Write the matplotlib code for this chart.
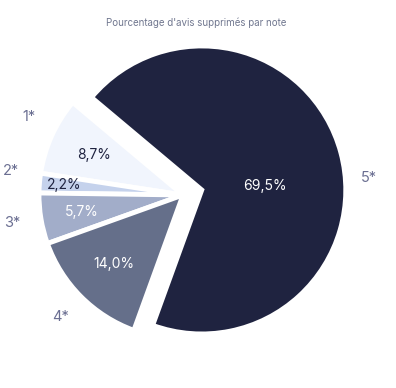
import numpy as np
import matplotlib.pyplot as plt

notes = ['1*', '2*', '3*', '4*', '5*']
pourcentages = [8.7, 2.2, 5.7, 14.0, 69.5]
couleurs = ['#f1f5fd', '#c5d2ec', '#a2adc9', '#656f8a', '#1f2340']
couleurs_pct = ['#1f2340', '#1f2340', 'white', 'white', 'white']
titre = "Pourcentage d'avis supprimés par note"

plt.rcParams['font.family'] = ['Inter', 'DejaVu Sans']


def fmt(p):
    return f"{p:.1f}%".replace('.', ',')


def main():
    fig = plt.figure(figsize=(3.96, 3.88), dpi=100)
    ax = fig.add_axes([0, 0, 1, 1])

    # pixel scale: radius ~144 px, center ~ (183, 195) from top-left
    r_px = 144.0
    cx, cy = 183.0, 388 - 195.0

    wedges, texts, autotexts = ax.pie(
        pourcentages, labels=notes, colors=couleurs, startangle=140,
        counterclock=True, explode=[0, 0, 0, 0, 0.135],
        autopct='%1.1f', pctdistance=0.68, labeldistance=1.2,
        wedgeprops=dict(edgecolor='white', linewidth=3.5),
        textprops=dict(fontsize=10))

    # show the values as given (they sum to 100.1)
    for t, v, c in zip(autotexts, pourcentages, couleurs_pct):
        t.set_text(fmt(v))
        t.set_color(c)
        t.set_fontsize(10)
    for t in texts:
        t.set_color('#6b6f92')
        t.set_fontsize(10.5)
        t.set_ha('center')
        t.set_va('center')

    # small tweaks of text placement
    def place(t, w, dist, ang=None):
        if ang is None:
            ang = (w.theta1 + w.theta2) / 2
        a = np.deg2rad(ang)
        x0, y0 = w.center
        t.set_position((x0 + dist * np.cos(a), y0 + dist * np.sin(a)))
        t.set_ha('center')
        t.set_va('center')

    place(autotexts[1], wedges[1], 0.83)
    place(autotexts[2], wedges[2], 0.71)
    place(autotexts[4], wedges[4], 0.44, 4)
    place(texts[4], wedges[4], 1.16, 4)
    place(texts[1], wedges[1], 1.21, 172)
    place(texts[0], wedges[0], 1.2, 153)

    ax.set_aspect('auto')
    ax.set_xlim(-cx / r_px, (396 - cx) / r_px)
    ax.set_ylim(-cy / r_px, (388 - cy) / r_px)
    ax.set_axis_off()

    fig.text(196 / 396, 1 - 23 / 388, titre, ha='center', va='center',
             fontsize=7, color='#70778f')

    fig.savefig('out.png', dpi=100, facecolor='white')


if __name__ == "__main__":
    main()
